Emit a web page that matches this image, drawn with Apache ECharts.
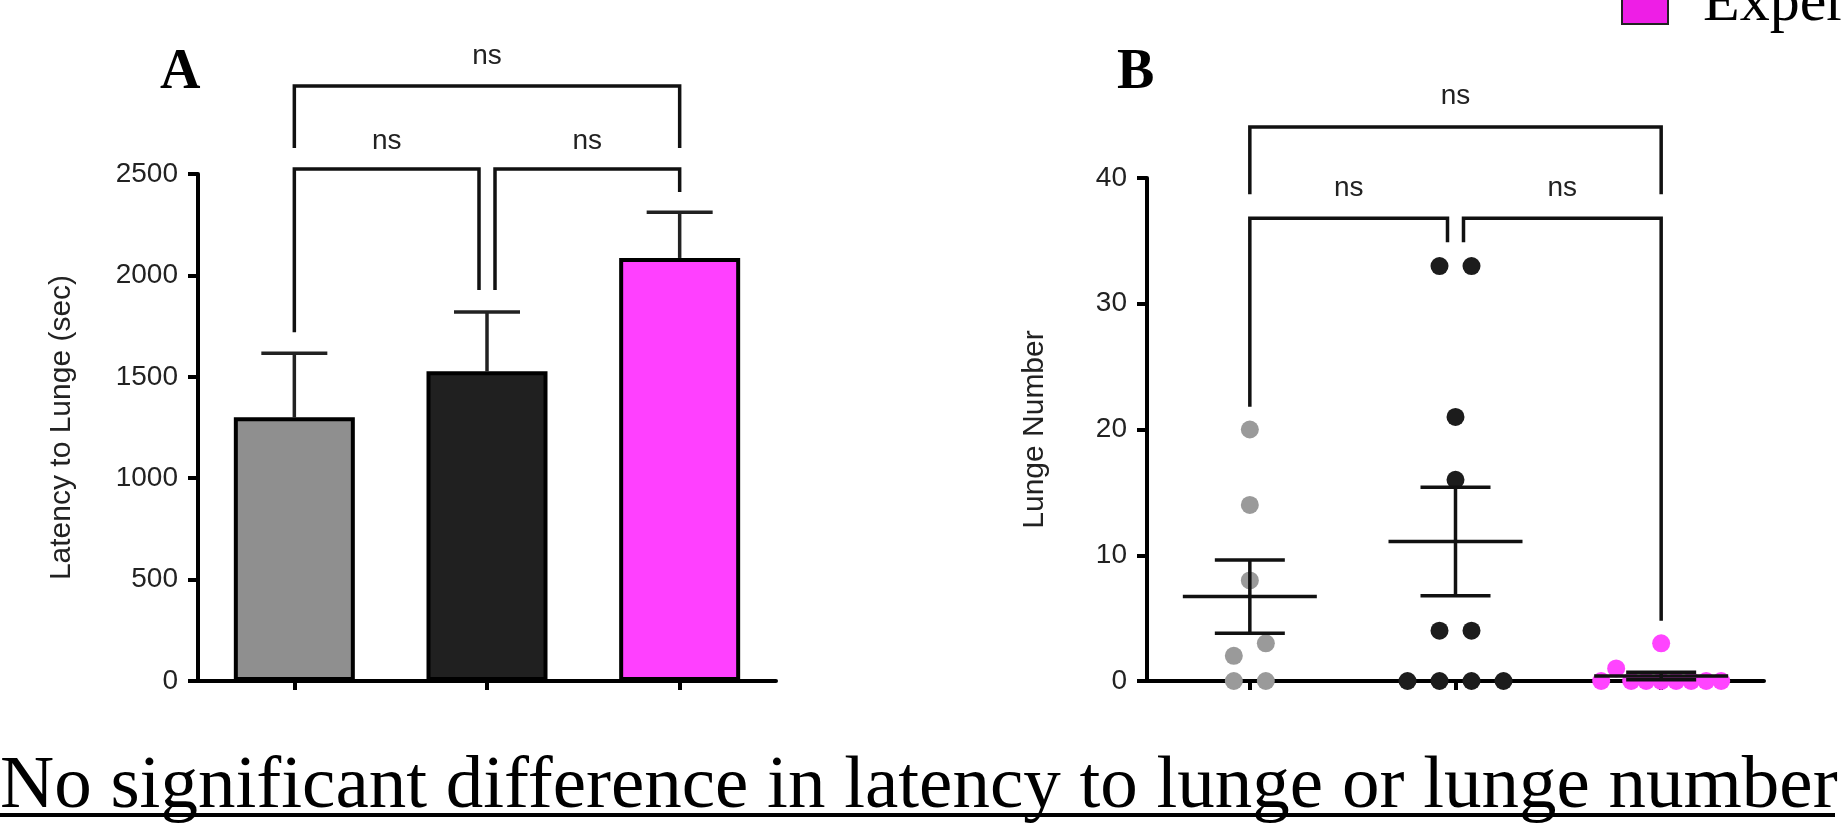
<!DOCTYPE html>
<html>
<head>
<meta charset="utf-8">
<title>Latency to lunge and lunge number</title>
<script src="https://cdn.jsdelivr.net/npm/echarts@6/dist/echarts.min.js"></script>
<style>
  html, body { margin: 0; padding: 0; background: #fff; }
  #main { width: 1844px; height: 824px; }
</style>
</head>
<body>
<div id="main"></div>
<script>
// groups, left to right
const groups = ['Control', 'Group 2', 'Experimental'];
const barColors = ['#8f8f8f', '#202020', '#ff40ff'];
const dotColors = ['#9a9a9a', '#1c1c1c', '#ff44ff'];

// A: latency to lunge (sec), mean + SEM
const latencyMean = [1300, 1527, 2086];
const latencySem = [316, 293, 226];

// B: lunge number per animal
const lungeControl = [20, 14, 8, 2, 3, 0, 0];
const lungeGroup2 = [33, 33, 21, 16, 4, 4, 0, 0, 0, 0];
const lungeExp = [0, 1, 0, 0, 0, 0, 0, 0, 0, 3];

// brackets: [from, to, level, left end, right end, label level]
const bracketsA = [
  [0, 1, 2525, 1720, 1928, 2663],
  [1, 2, 2525, 1928, 2411, 2663],
  [0, 2, 2934, 2628, 2628, 3082]
];
const bracketsB = [
  [0, 1, 36.8, 21.8, 34.9, 39.2],
  [1, 2, 36.8, 34.9, 4.8, 39.2],
  [0, 2, 44.05, 38.7, 38.7, 46.5]
];

const sans = '"Liberation Sans", Arial, sans-serif';
const serif = '"Liberation Serif", "Times New Roman", serif';

function meanSem(arr) {
  const n = arr.length;
  const m = arr.reduce((a, b) => a + b, 0) / n;
  const sd = Math.sqrt(arr.reduce((a, b) => a + (b - m) * (b - m), 0) / (n - 1));
  return [m, sd / Math.sqrt(n)];
}

// simple swarm: close values are spread sideways, kept in array order
function swarmOffsets(values, spacing, maxSpan) {
  const order = values.map((v, i) => i).sort((a, b) => values[a] - values[b]);
  const offsets = values.map(() => 0);
  let cluster = [];
  const flush = () => {
    const idx = cluster.slice().sort((a, b) => a - b);
    const n = idx.length;
    const step = n > 1 ? Math.min(spacing, maxSpan / (n - 1)) : 0;
    idx.forEach((k, j) => { offsets[k] = (j - (n - 1) / 2) * step; });
  };
  order.forEach(i => {
    if (cluster.length && values[i] - values[cluster[0]] >= 1.6) { flush(); cluster = []; }
    cluster.push(i);
  });
  if (cluster.length) flush();
  return offsets;
}

function bracketSeries(list, xi, yi) {
  return {
    type: 'custom',
    xAxisIndex: xi,
    yAxisIndex: yi,
    clip: false,
    z: 5,
    data: list,
    renderItem(params, api) {
      const a = api.value(0), b = api.value(1);
      const narrow = b - a === 1;
      const sa = narrow && a === 1 ? 8 : 0;
      const sb = narrow && b === 1 ? -8 : 0;
      const p1 = api.coord([a, api.value(2)]);
      const p2 = api.coord([b, api.value(2)]);
      const e1 = api.coord([a, api.value(3)]);
      const e2 = api.coord([b, api.value(4)]);
      const t = api.coord([(a + b) / 2, api.value(5)]);
      return {
        type: 'group',
        children: [
          {
            type: 'polyline',
            shape: { points: [[e1[0] + sa, e1[1]], [p1[0] + sa, p1[1]], [p2[0] + sb, p2[1]], [e2[0] + sb, e2[1]]] },
            style: { stroke: '#111', lineWidth: 3.5, fill: null }
          },
          {
            type: 'text',
            style: { text: 'ns', x: (p1[0] + sa + p2[0] + sb) / 2, y: t[1], align: 'center', verticalAlign: 'middle', font: '28px ' + sans, fill: '#222' }
          }
        ]
      };
    }
  };
}

const offsets = [
  swarmOffsets(lungeControl, 32, 120),
  swarmOffsets(lungeGroup2, 32, 120),
  swarmOffsets(lungeExp, 32, 120)
];
const lungeSets = [lungeControl, lungeGroup2, lungeExp];
const lungeStats = lungeSets.map((arr, i) => [i].concat(meanSem(arr)));

const axisLine = { show: true, onZero: false, lineStyle: { color: '#000', width: 4 } };
const catTick = { show: true, alignWithLabel: true, length: 9, lineStyle: { color: '#000', width: 4 } };
const valTick = { show: true, length: 10, lineStyle: { color: '#000', width: 4 } };
const valLabel = { fontSize: 28, fontFamily: sans, color: '#222', margin: 20, formatter: v => String(v) };
const nameStyle = { fontSize: 30, fontFamily: sans, color: '#222' };

const chart = echarts.init(document.getElementById('main'));
chart.setOption({
  animation: false,
  backgroundColor: '#fff',
  grid: [
    { left: 198, top: 174, width: 578, height: 507 },
    { left: 1147, top: 178, width: 617, height: 503 }
  ],
  xAxis: [
    { type: 'category', gridIndex: 0, data: groups, axisLine, axisTick: catTick, axisLabel: { show: false }, splitLine: { show: false } },
    { type: 'category', gridIndex: 1, data: groups, axisLine, axisTick: catTick, axisLabel: { show: false }, splitLine: { show: false } }
  ],
  yAxis: [
    {
      type: 'value', gridIndex: 0, min: 0, max: 2500, interval: 500,
      axisLine, axisTick: valTick, axisLabel: valLabel, splitLine: { show: false },
      name: 'Latency to Lunge (sec)', nameLocation: 'middle', nameGap: 121,
      nameTextStyle: nameStyle
    },
    {
      type: 'value', gridIndex: 1, min: 0, max: 40, interval: 10,
      axisLine, axisTick: valTick, axisLabel: valLabel, splitLine: { show: false },
      name: 'Lunge Number', nameLocation: 'middle', nameGap: 97,
      nameTextStyle: nameStyle
    }
  ],
  series: [
    {
      type: 'bar',
      xAxisIndex: 0,
      yAxisIndex: 0,
      barWidth: 121,
      z: 3,
      data: latencyMean,
      itemStyle: {
        color: p => barColors[p.dataIndex],
        borderColor: '#000',
        borderWidth: 4
      }
    },
    {
      // upper error whisker
      type: 'custom',
      xAxisIndex: 0,
      yAxisIndex: 0,
      z: 2,
      data: latencyMean.map((m, i) => [i, m, latencySem[i]]),
      renderItem(params, api) {
        const base = api.coord([api.value(0), api.value(1)]);
        const top = api.coord([api.value(0), api.value(1) + api.value(2)]);
        const st = { stroke: '#222', lineWidth: 3.5 };
        return {
          type: 'group',
          children: [
            { type: 'line', shape: { x1: base[0], y1: base[1], x2: top[0], y2: top[1] }, style: st },
            { type: 'line', shape: { x1: top[0] - 33, y1: top[1], x2: top[0] + 33, y2: top[1] }, style: st }
          ]
        };
      }
    },
    bracketSeries(bracketsA, 0, 0),
    ...lungeSets.map((arr, g) => ({
      type: 'scatter',
      xAxisIndex: 1,
      yAxisIndex: 1,
      symbolSize: 18,
      z: 3,
      itemStyle: { color: dotColors[g], opacity: 1 },
      data: arr.map((v, i) => ({ value: [g, v], symbolOffset: [offsets[g][i], 0] }))
    })),
    {
      // mean and SEM
      type: 'custom',
      xAxisIndex: 1,
      yAxisIndex: 1,
      z: 4,
      data: lungeStats,
      renderItem(params, api) {
        const x = api.value(0), m = api.value(1), s = api.value(2);
        const pm = api.coord([x, m]);
        const hi = api.coord([x, m + s]);
        const lo = api.coord([x, m - s]);
        const st = { stroke: '#111', lineWidth: 3.5 };
        return {
          type: 'group',
          children: [
            { type: 'line', shape: { x1: pm[0] - 67, y1: pm[1], x2: pm[0] + 67, y2: pm[1] }, style: st },
            { type: 'line', shape: { x1: hi[0], y1: hi[1], x2: lo[0], y2: lo[1] }, style: st },
            { type: 'line', shape: { x1: hi[0] - 35, y1: hi[1], x2: hi[0] + 35, y2: hi[1] }, style: st },
            { type: 'line', shape: { x1: lo[0] - 35, y1: lo[1], x2: lo[0] + 35, y2: lo[1] }, style: st }
          ]
        };
      }
    },
    bracketSeries(bracketsB, 1, 1)
  ],
  graphic: [
    { type: 'text', left: 160, top: 46, style: { text: 'A', font: 'bold 56px ' + serif, fill: '#000' } },
    { type: 'text', left: 1117, top: 46, style: { text: 'B', font: 'bold 56px ' + serif, fill: '#000' } },
    { type: 'rect', shape: { x: 1622, y: -22, width: 46, height: 46 }, style: { fill: '#ee1ee6', stroke: '#222', lineWidth: 2 } },
    { type: 'text', x: 1703, y: 4, style: { text: 'Experimental', font: '60px ' + serif, fill: '#000', verticalAlign: 'middle' } },
    { type: 'text', x: 0, y: 787, style: { text: 'No significant difference in latency to lunge or lunge number', font: '75px ' + serif, fill: '#000', verticalAlign: 'middle' } },
    { type: 'rect', shape: { x: 0, y: 813, width: 1835, height: 4 }, style: { fill: '#000' } }
  ]
});
</script>
</body>
</html>
